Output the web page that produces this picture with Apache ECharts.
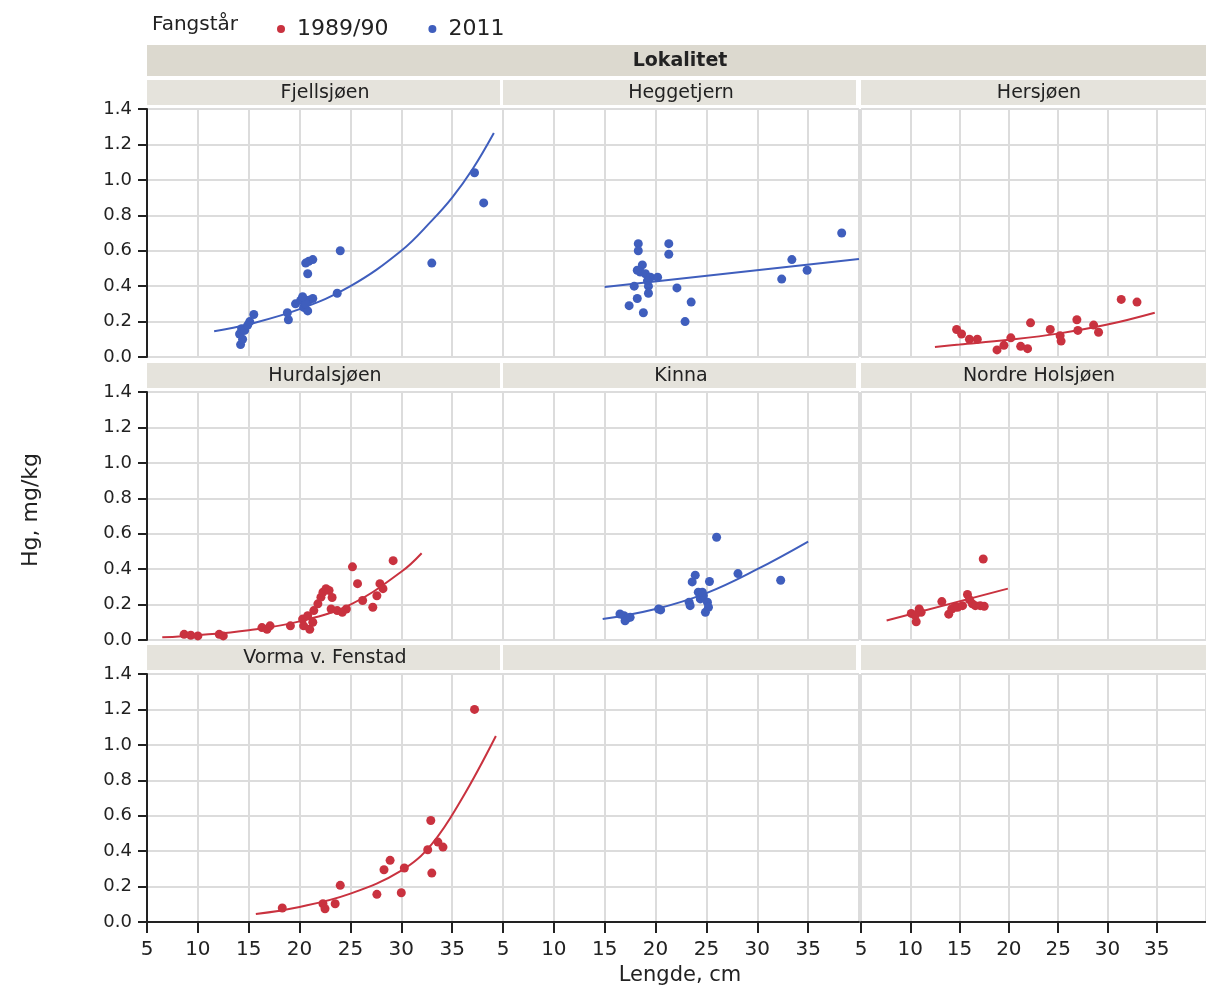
<!DOCTYPE html>
<html>
<head>
<meta charset="utf-8">
<script src="https://cdn.jsdelivr.net/npm/echarts@6/dist/echarts.min.js"></script>
<style>
  html, body { margin: 0; padding: 0; background: #ffffff; }
  #chart { width: 1206px; height: 989px; }
</style>
</head>
<body>
<div id="chart"></div>
<script>
// Lakes in facet order (row by row); the last two cells are empty
const lakes = ['Fjellsjøen', 'Heggetjern', 'Hersjøen',
               'Hurdalsjøen', 'Kinna', 'Nordre Holsjøen',
               'Vorma v. Fenstad', '', ''];
const years = ['1989/90', '2011'];
const yearOfLake = ['2011', '2011', '1989/90', '1989/90', '2011', '1989/90', '1989/90'];

// Measured fish: [length cm, Hg mg/kg]
const fjellsjoen = [[14.2,0.07],[14.4,0.10],[14.1,0.13],[14.3,0.16],[14.6,0.15],[14.9,0.18],[15.1,0.20],[15.5,0.24],
  [18.9,0.21],[18.8,0.25],[19.6,0.30],[20.1,0.32],[20.4,0.28],[20.8,0.26],[20.9,0.32],[21.3,0.33],[20.6,0.30],[20.3,0.34],
  [20.8,0.47],[20.9,0.54],[21.3,0.55],[20.6,0.53],[23.7,0.36],[24.0,0.60],[33.0,0.53],[37.2,1.04],[38.1,0.87]];
const heggetjern = [[18.3,0.64],[18.3,0.60],[21.3,0.64],[21.3,0.58],[38.3,0.70],[33.4,0.55],[34.9,0.49],[32.4,0.44],
  [18.7,0.52],[18.5,0.48],[19.0,0.47],[18.2,0.49],[19.5,0.45],[20.2,0.45],[19.2,0.43],[19.3,0.40],[19.3,0.36],[17.9,0.40],
  [22.1,0.39],[18.2,0.33],[17.4,0.29],[18.8,0.25],[23.5,0.31],[22.9,0.20]];
const hersjoen = [[14.7,0.155],[15.2,0.13],[16.0,0.10],[16.8,0.10],[18.8,0.04],[19.5,0.066],[20.2,0.108],[21.2,0.06],
  [21.9,0.047],[22.2,0.193],[24.2,0.155],[25.3,0.09],[25.2,0.12],[26.9,0.21],[27.0,0.15],[28.6,0.18],[29.1,0.14],
  [31.4,0.325],[33.0,0.31]];
const hurdalsjoen = [[8.65,0.032],[9.3,0.027],[10.0,0.023],[12.1,0.032],[12.5,0.023],[16.3,0.07],[16.8,0.06],[17.1,0.08],
  [19.1,0.08],[20.3,0.118],[20.4,0.08],[20.8,0.137],[21.0,0.06],[21.3,0.10],[21.4,0.166],[21.8,0.204],[22.1,0.242],
  [22.3,0.27],[22.6,0.29],[22.9,0.28],[23.2,0.24],[23.1,0.175],[23.7,0.166],[24.6,0.175],[24.2,0.156],[25.2,0.413],
  [25.7,0.318],[26.2,0.223],[27.2,0.185],[27.6,0.25],[27.9,0.318],[28.2,0.29],[29.2,0.448]];
const kinna = [[16.9,0.137],[17.2,0.122],[17.0,0.108],[17.5,0.128],[16.5,0.147],[20.3,0.175],[20.5,0.17],[23.3,0.213],
  [23.4,0.194],[23.9,0.366],[23.6,0.328],[24.2,0.27],[24.4,0.232],[24.7,0.25],[25.1,0.213],[24.9,0.156],[25.2,0.185],
  [25.3,0.33],[24.6,0.27],[26.0,0.58],[28.1,0.375],[32.3,0.337]];
const nordreHolsjoen = [[10.1,0.15],[10.6,0.103],[10.9,0.175],[11.1,0.156],[10.5,0.14],[13.2,0.217],[13.9,0.146],
  [14.2,0.175],[14.5,0.185],[14.8,0.185],[15.3,0.194],[15.8,0.257],[16.0,0.228],[16.3,0.204],[16.6,0.194],[17.1,0.194],
  [17.5,0.19],[17.4,0.457]];
const vorma = [[18.3,0.079],[22.3,0.103],[22.5,0.075],[23.5,0.103],[24.0,0.207],[27.6,0.156],[28.3,0.295],[28.9,0.348],
  [30.0,0.165],[30.3,0.305],[32.6,0.408],[32.9,0.573],[33.0,0.276],[33.6,0.451],[34.1,0.423],[37.2,1.20]];

// Fitted regression curves: [length cm, Hg mg/kg]
const fjellsjoenFit = [[11.6,0.145],[15,0.185],[20,0.27],[25,0.40],[30,0.60],[33,0.77],[35,0.90],[37,1.06],[39.1,1.265]];
const heggetjernFit = [[15.0,0.395],[40,0.553]];
const hersjoenFit = [[12.5,0.057],[15,0.07],[20,0.097],[25,0.132],[30,0.183],[34.8,0.25]];
const hurdalsjoenFit = [[6.5,0.015],[10,0.027],[15,0.055],[20,0.105],[25,0.20],[30,0.385],[32,0.49]];
const kinnaFit = [[14.8,0.118],[20,0.175],[25,0.265],[30,0.40],[35,0.556]];
const nordreHolsjoenFit = [[7.6,0.11],[19.9,0.29]];
const vormaFit = [[15.7,0.045],[20,0.085],[25,0.16],[30,0.29],[33,0.44],[36,0.70],[39.3,1.05]];

const points = [fjellsjoen, heggetjern, hersjoen, hurdalsjoen, kinna, nordreHolsjoen, vorma];
const fits = [fjellsjoenFit, heggetjernFit, hersjoenFit, hurdalsjoenFit, kinnaFit, nordreHolsjoenFit, vormaFit];

const yearColor = { '1989/90': '#c9323f', '2011': '#3f5ebd' };

// Facet geometry
const colLeft = [147, 503, 861];
const colWidth = 356;
const rowTop = [109, 392, 674];
const rowHeight = 248;
const font = 'DejaVu Sans';
const textColor = '#222222';

const grids = [], xAxes = [], yAxes = [], series = [], graphics = [];

graphics.push({ type: 'rect', shape: { x: 147, y: 45, width: 1070, height: 31 }, style: { fill: '#dcd9cf' }, silent: true });
graphics.push({ type: 'text', x: 680, y: 61, style: { text: 'Lokalitet', fill: textColor, font: 'bold 19px "' + font + '"', align: 'center', verticalAlign: 'middle' } });
graphics.push({ type: 'text', x: 152, y: 25, style: { text: 'Fangstår', fill: textColor, font: '20px "' + font + '"', align: 'left', verticalAlign: 'middle' } });
graphics.push({ type: 'text', x: 680, y: 976, style: { text: 'Lengde, cm', fill: textColor, font: '21px "' + font + '"', align: 'center', verticalAlign: 'middle' } });
graphics.push({ type: 'text', x: 31, y: 510, rotation: Math.PI / 2, style: { text: 'Hg, mg/kg', fill: textColor, font: '22px "' + font + '"', align: 'center', verticalAlign: 'middle' } });

lakes.forEach((lake, i) => {
  const col = i % 3, row = Math.floor(i / 3);
  const left = colLeft[col], top = rowTop[row];
  grids.push({ left: left, top: top, width: colWidth, height: rowHeight, containLabel: false });

  // strip header above each panel
  graphics.push({ type: 'rect', shape: { x: left, y: top - 29, width: colWidth - 3, height: 25 }, style: { fill: '#e5e3dc' }, silent: true });
  if (lake) {
    graphics.push({ type: 'text', x: left + colWidth / 2, y: top - 16, style: { text: lake, fill: textColor, font: '19px "' + font + '"', align: 'center', verticalAlign: 'middle' } });
  }

  const bottomRow = row === 2;
  xAxes.push({
    type: 'value', gridIndex: i, min: 5, max: 40, interval: 5,
    axisLine: { show: bottomRow, onZero: false, lineStyle: { color: '#222', width: 2 } },
    axisTick: { show: bottomRow, length: 11, lineStyle: { color: '#222', width: 2 } },
    axisLabel: { show: bottomRow, showMaxLabel: false, margin: 18, fontFamily: font, fontSize: 20, color: textColor },
    splitLine: { show: true, lineStyle: { color: '#dcdcdc', width: 2 } }
  });
  const firstCol = col === 0;
  yAxes.push({
    type: 'value', gridIndex: i, min: 0, max: 1.4, interval: 0.2,
    axisLine: { show: firstCol, lineStyle: { color: '#222', width: 2 } },
    axisTick: { show: firstCol, length: 9, lineStyle: { color: '#222', width: 2 } },
    axisLabel: { show: firstCol, margin: 15, fontFamily: font, fontSize: 18, color: textColor, formatter: v => v.toFixed(1) },
    splitLine: { show: true, lineStyle: { color: '#dcdcdc', width: 2 } }
  });

  if (i < points.length) {
    const year = yearOfLake[i];
    const color = yearColor[year];
    series.push({
      type: 'scatter', name: year, xAxisIndex: i, yAxisIndex: i,
      data: points[i], symbol: 'circle', symbolSize: 9,
      itemStyle: { color: color, opacity: 1 }, z: 3
    });
    series.push({
      type: 'line', name: year, xAxisIndex: i, yAxisIndex: i,
      data: fits[i], showSymbol: false, smooth: 0.4,
      lineStyle: { color: color, width: 2 }, itemStyle: { color: color }, z: 2
    });
  }
});

const chart = echarts.init(document.getElementById('chart'), null, { renderer: 'canvas' });
chart.setOption({
  animation: false,
  backgroundColor: '#ffffff',
  legend: {
    data: years.map(y => ({ name: y, icon: 'circle', itemStyle: { color: yearColor[y] } })),
    left: 272, top: 13, itemWidth: 22, itemHeight: 8, itemGap: 40,
    textStyle: { fontFamily: font, fontSize: 22, color: textColor }
  },
  grid: grids,
  xAxis: xAxes,
  yAxis: yAxes,
  series: series,
  graphic: graphics
});
</script>
</body>
</html>
